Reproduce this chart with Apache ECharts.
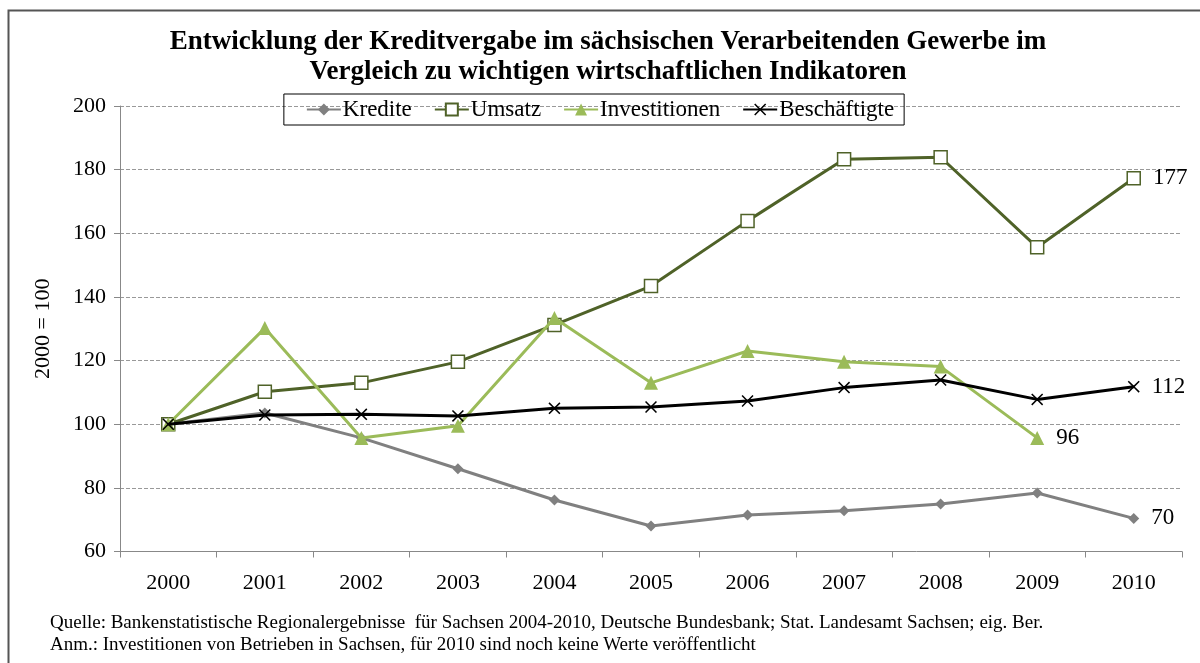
<!DOCTYPE html>
<html><head><meta charset="utf-8">
<script src="https://cdn.jsdelivr.net/npm/echarts@6/dist/echarts.min.js"></script>
<style>html,body{margin:0;padding:0;background:#fff}#c{width:1200px;height:663px}</style>
</head><body><div id="c"></div>
<script>
const years = ['2000','2001','2002','2003','2004','2005','2006','2007','2008','2009','2010'];
const kredite = [100, 103.5, 95.7, 86, 76.2, 68, 71.5, 72.8, 74.9, 78.4, 70.4];
const umsatz = [100, 110.2, 113, 119.6, 131.2, 143.4, 163.9, 183.3, 183.9, 155.6, 177.3];
const investitionen = [100, 130.2, 95.7, 99.5, 133.4, 113, 123, 119.6, 118.1, 95.7, null];
const beschaeftigte = [100, 102.9, 103.1, 102.6, 105, 105.4, 107.3, 111.5, 113.9, 107.8, 111.8];
const yTicks = [60, 80, 100, 120, 140, 160, 180, 200];

const serif = '"Liberation Serif","Times New Roman",serif';
function withEndLabel(arr){
  let last = -1;
  arr.forEach((v,i)=>{ if(v!==null) last=i; });
  return arr.map((v,i)=> i===last ? {value:v, label:{show:true, position:'right', distance:12, fontFamily:serif, fontSize:23, color:'#000', formatter:p=>Math.round(p.value)}} : v);
}
const crossPath = 'path://M0,0.9L0.9,0L5,4.1L9.1,0L10,0.9L5.9,5L10,9.1L9.1,10L5,5.9L0.9,10L0,9.1L4.1,5Z';

const chart = echarts.init(document.getElementById('c'), null, {renderer:'canvas'});
chart.setOption({
  animation:false,
  backgroundColor:'#fff',
  textStyle:{fontFamily:serif},
  graphic:[{type:'rect', shape:{x:8.5,y:10.5,width:1300,height:800}, style:{fill:'none', stroke:'#555', lineWidth:2}, silent:true}],
  title:{
    text:'Entwicklung der Kreditvergabe im sächsischen Verarbeitenden Gewerbe im\nVergleich zu wichtigen wirtschaftlichen Indikatoren',
    left:603, textAlign:'center', top:22,
    textStyle:{fontFamily:serif, fontSize:27, fontWeight:'bold', color:'#000', lineHeight:30}
  },
  legend:{
    top:94, left:'center',
    data:['Kredite','Umsatz','Investitionen','Beschäftigte'],
    borderColor:'#000', borderWidth:1, padding:[4,10,4,22],
    itemGap:22, itemWidth:34, itemHeight:15,
    textStyle:{fontFamily:serif, fontSize:23, color:'#000', padding:[0,0,0,-3]}
  },
  grid:{left:120, right:18, top:106, bottom:111.5, containLabel:false},
  xAxis:{
    type:'category', data:years, boundaryGap:true,
    axisLine:{lineStyle:{color:'#888', width:1}},
    axisTick:{show:true, length:6, lineStyle:{color:'#888'}},
    axisLabel:{fontFamily:serif, fontSize:22, color:'#000', margin:21}
  },
  yAxis:{
    type:'value', min:60, max:200, interval:20,
    name:'2000 = 100', nameLocation:'middle', nameGap:66, nameRotate:90,
    nameTextStyle:{fontFamily:serif, fontSize:22, color:'#000'},
    axisLine:{show:true, lineStyle:{color:'#888', width:1}},
    axisTick:{show:true, length:6, lineStyle:{color:'#888'}},
    axisLabel:{fontFamily:serif, fontSize:22, color:'#000', margin:14, formatter:v=> yTicks.includes(v)? String(v):''},
    splitLine:{show:true, lineStyle:{color:'#999', type:[4,2], width:1}}
  },
  series:[
    {name:'Kredite', type:'line', data:withEndLabel(kredite), symbol:'diamond', symbolSize:11,
      lineStyle:{color:'#808080', width:3}, itemStyle:{color:'#808080'}, z:2},
    {name:'Umsatz', type:'line', data:withEndLabel(umsatz), symbol:'rect', symbolSize:13,
      lineStyle:{color:'#4F6228', width:3}, itemStyle:{color:'#fff', borderColor:'#4F6228', borderWidth:1.5}, z:3},
    {name:'Investitionen', type:'line', data:withEndLabel(investitionen), symbol:'triangle', symbolSize:14,
      lineStyle:{color:'#9BBB59', width:3}, itemStyle:{color:'#9BBB59'}, connectNulls:false, z:4},
    {name:'Beschäftigte', type:'line', data:withEndLabel(beschaeftigte), symbol:crossPath, symbolSize:12,
      lineStyle:{color:'#000', width:3}, itemStyle:{color:'#000'}, z:5}
  ]
});
</script>
<div style="position:absolute;left:50px;top:611px;font-family:'Liberation Serif','Times New Roman',serif;font-size:19px;line-height:22px;color:#000;white-space:nowrap">
Quelle: Bankenstatistische Regionalergebnisse&nbsp; für Sachsen 2004-2010, Deutsche Bundesbank; Stat. Landesamt Sachsen; eig. Ber.<br>
Anm.: Investitionen von Betrieben in Sachsen, für 2010 sind noch keine Werte veröffentlicht
</div>
</body></html>
